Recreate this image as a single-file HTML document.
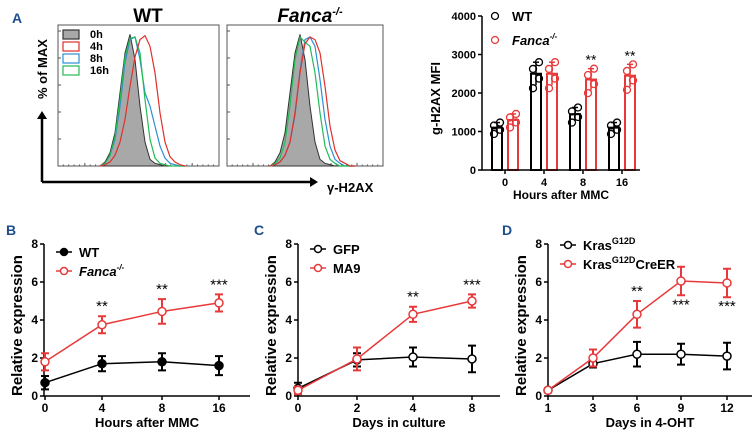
<!DOCTYPE html>
<html><head><meta charset="utf-8"><style>
body{margin:0;background:#fff}
svg{display:block;font-family:"Liberation Sans",Arial,sans-serif;font-weight:bold}
</style></head><body>
<svg id="s" width="754" height="435" viewBox="0 0 754 435">
<g fill="#1f4e8c" font-size="14">
<text x="12" y="23">A</text>
<text x="6" y="235">B</text>
<text x="254" y="235">C</text>
<text x="502" y="235">D</text>
</g>
</svg>
<script>
const NS='http://www.w3.org/2000/svg';
const S=document.getElementById('s');
function el(t,a,p){const e=document.createElementNS(NS,t);for(const k in a)e.setAttribute(k,a[k]);(p||S).appendChild(e);return e;}
function tx(x,y,s,a,p){const e=el('text',Object.assign({x:x,y:y},a),p);e.textContent=s;return e;}

// ---------- Panel A histograms data ----------
const histBins=[0,1,2,3,4,5,6,7,8,9,10,11,12,13,14,15,16,17];
const wtGrey=[0,3,10,25,55,85,99,80,45,18,5,2,1,0,0,0,0,0];
const wtRed=[0,1,3,8,18,35,60,82,95,98,90,70,40,18,7,3,1,0];
const wtBlue=[0,2,8,20,45,78,95,97,80,55,45,30,15,6,2,1,0,0];
const wtGreen=[0,2,8,22,50,82,96,97,85,50,20,6,2,1,0,0,0,0];
const fGrey=[0,3,10,25,55,85,99,80,45,18,5,2,1,0,0,0,0,0];
const fRed=[0,1,3,8,18,40,70,92,97,95,85,60,30,12,4,2,0,0];
const fBlue=[0,1,3,8,18,38,72,95,97,90,65,35,15,5,2,0,0,0];
const fGreen=[0,2,6,18,45,80,97,93,90,70,40,15,5,2,0,0,0,0];

function histPanel(name,x0,x1,start,series){
  const g=el('g',{});
  
  
  const yb=166,yt=25;
  el('rect',{x:x0,y:yt,width:x1-x0,height:yb-yt,fill:'none',stroke:'#555','stroke-width':1},g);
  for(let i=0;i<6;i++){el('line',{x1:x0,x2:x0+3,y1:yb-i*27,y2:yb-i*27,stroke:'#555'},g);}
  for(let i=0;i<30;i++){el('line',{x1:x0+i*(x1-x0)/30,x2:x0+i*(x1-x0)/30,y1:yb,y2:yb-(i%5==0?3:1.5),stroke:'#555'},g);}
  const sx=b=>start+b*5, sy=h=>yb-h/100*(yb-yt-8);
  series.forEach(([d,col,fill])=>{
    let pts=histBins.map((b,i)=>sx(b)+','+sy(d[i])).join(' ');
    if(fill){const p=el('polygon',{points:sx(0)+','+yb+' '+pts+' '+sx(17)+','+yb,fill:'#a8a8a8',stroke:'#333','stroke-width':1},g);
      }
    else{const p=el('polyline',{points:pts,fill:'none',stroke:col,'stroke-width':1.2},g);
      }
  });
}
histPanel('histogram-wt',58,219,100,[[wtGrey,'#333',1],[wtBlue,'#2b8fd6'],[wtGreen,'#22bb55'],[wtRed,'#e0302a']]);
histPanel('histogram-fanca',227,383,270,[[fGrey,'#333',1],[fBlue,'#2b8fd6'],[fGreen,'#22bb55'],[fRed,'#e0302a']]);
tx(148,22,'WT',{'font-size':19,'text-anchor':'middle'});
const ft=tx(310,22,'',{'font-size':19,'text-anchor':'middle','font-style':'italic'});
ft.innerHTML='Fanca<tspan dy="-7" font-size="11">-/-</tspan>';
const legA=[['0h','#a8a8a8','#333'],['4h','#fff','#e0302a'],['8h','#fff','#2b8fd6'],['16h','#fff','#22bb55']];
legA.forEach((l,i)=>{el('rect',{x:63,y:30+i*12,width:16,height:9,fill:l[1],stroke:l[2],'stroke-width':1.2});tx(90,38+i*12,l[0],{'font-size':11});});
el('path',{d:'M42,182 L42,118 M42,182 L312,182',stroke:'#000','stroke-width':2.5,fill:'none'});
el('polygon',{points:'37,119 47,119 42,111',fill:'#000'});
el('polygon',{points:'310,177 310,187 318,182',fill:'#000'});
tx(0,0,'% of MAX',{'font-size':13,transform:'translate(47,99) rotate(-90)'});
tx(327,192,'γ-H2AX',{'font-size':13});

// ---------- Panel A bar chart ----------
const barCats=['0','4','8','16'];
const barWT=[1100,2500,1450,1100];
const barFa=[1300,2500,2350,2450];
const barTicks=[0,1000,2000,3000,4000];
const barStars=['','','**','**'];
(function(){
  const g=el('g',{});
  
  
  const X0=482,X1=640,Y0=170,Y1=16;
  const y=v=>Y0-v/4000*(Y0-Y1);
  const cx=i=>505+i*39;
  barTicks.forEach(t=>{el('line',{x1:X0-4,x2:X0,y1:y(t),y2:y(t),stroke:'#000','stroke-width':1.5},g);tx(X0-6,y(t)+4,t,{'font-size':11,'text-anchor':'end'},g);});
  barCats.forEach((c,i)=>{
    el('line',{x1:cx(i),x2:cx(i),y1:Y0,y2:Y0+4,stroke:'#000','stroke-width':1.5},g);
    tx(cx(i),Y0+16,c,{'font-size':11,'text-anchor':'middle'},g);
    [[barWT[i],'#000',-8],[barFa[i],'#e8393a',8]].forEach(([v,col,o])=>{
      const b=el('rect',{x:cx(i)+o-5,y:y(v),width:10,height:Y0-y(v),fill:'none',stroke:col,'stroke-width':2},g);
      
      el('line',{x1:cx(i)+o,x2:cx(i)+o,y1:y(v*0.88),y2:y(v*1.12),stroke:col,'stroke-width':1.5},g);
      el('line',{x1:cx(i)+o-3,x2:cx(i)+o+3,y1:y(v*1.12),y2:y(v*1.12),stroke:col,'stroke-width':1.5},g);
      [-0.15,-0.05,0.05,0.12].forEach((d,k)=>{el('circle',{cx:cx(i)+o+(k%2?3:-3),cy:y(v*(1+d)),r:3.5,fill:'none',stroke:col,'stroke-width':1.3},g);});
    });
    if(barStars[i])tx(cx(i)+8,y(barFa[i]*1.12)-4,barStars[i],{'font-size':14,'text-anchor':'middle','font-weight':'normal'},g);
  });
  el('path',{d:`M${X0},${Y1} L${X0},${Y0} L${X1},${Y0}`,stroke:'#000','stroke-width':1.5,fill:'none'},g);
  tx(0,0,'g-H2AX MFI',{'font-size':13,transform:'translate(440,135) rotate(-90)'},g);
  tx(561,199,'Hours after MMC',{'font-size':12,'text-anchor':'middle'},g);
  el('circle',{cx:495,cy:16,r:3.5,fill:'none',stroke:'#000','stroke-width':1.3},g);
  tx(512,21,'WT',{'font-size':13},g);
  el('circle',{cx:495,cy:40,r:3.5,fill:'none',stroke:'#e8393a','stroke-width':1.3},g);
  const f=tx(512,45,'',{'font-size':13,'font-style':'italic'},g);f.innerHTML='Fanca<tspan dy="-6" font-size="8">-/-</tspan>';
})();

// ---------- Line charts ----------
const bCats=['0','4','8','16'];
const bWT=[0.7,1.7,1.8,1.6];
const bWTerr=[0.35,0.4,0.45,0.5];
const bFa=[1.8,3.75,4.45,4.9];
const bFaErr=[0.45,0.45,0.65,0.45];
const bStars=['','**','**','***'];
const cCats=['0','2','4','8'];
const cGFP=[0.4,1.9,2.05,1.95];
const cGFPerr=[0.3,0.35,0.5,0.7];
const cMA9=[0.3,1.95,4.3,5.0];
const cMA9err=[0.2,0.6,0.4,0.35];
const cStars=['','','**','***'];
const dCats=['1','3','6','9','12'];
const dK=[0.3,1.7,2.2,2.2,2.1];
const dKerr=[0.1,0.2,0.65,0.55,0.7];
const dC=[0.3,2.0,4.3,6.05,5.95];
const dCerr=[0.1,0.45,0.7,0.75,0.75];
const dStars=['','','**','***','***'];
const yTicks=[0,2,4,6,8];

function lineChart(name,ax,xpos,axEnd,cats,s1,e1,s2,e2,stars,starBelow,filled,xTitle,leg,legY){
  const g=el('g',{});
  
  
  const Y0=396,Y1=244;
  const y=v=>Y0-v/8*(Y0-Y1);
  const x=i=>xpos[i];
  yTicks.forEach(t=>{el('line',{x1:ax-4,x2:ax,y1:y(t),y2:y(t),stroke:'#000','stroke-width':1.5},g);tx(ax-6,y(t)+4,t,{'font-size':12,'text-anchor':'end'},g);});
  cats.forEach((c,i)=>{el('line',{x1:x(i),x2:x(i),y1:Y0,y2:Y0+4,stroke:'#000','stroke-width':1.5},g);tx(x(i),Y0+16,c,{'font-size':12,'text-anchor':'middle'},g);});
  el('path',{d:`M${ax},${Y1} L${ax},${Y0} L${axEnd},${Y0}`,stroke:'#000','stroke-width':1.5,fill:'none'},g);
  [[s1,e1,'#000',filled],[s2,e2,'#e8393a',false]].forEach(([s,e,col,fl],k)=>{
    const l=el('polyline',{points:s.map((v,i)=>x(i)+','+y(v)).join(' '),fill:'none',stroke:col,'stroke-width':1.5},g);
    
    s.forEach((v,i)=>{
      el('path',{d:`M${x(i)},${y(v-e[i])} L${x(i)},${y(v+e[i])} M${x(i)-4},${y(v-e[i])} L${x(i)+4},${y(v-e[i])} M${x(i)-4},${y(v+e[i])} L${x(i)+4},${y(v+e[i])}`,stroke:col,'stroke-width':2,fill:'none'},g);
      const m=el('circle',{cx:x(i),cy:y(v),r:4,fill:fl?'#000':'#fff',stroke:col,'stroke-width':1.5},g);
      
    });
  });
  stars.forEach((st,i)=>{if(!st)return;
    const ty=starBelow[i]?y(s2[i]-e2[i])+14:y(s2[i]+e2[i])-5;
    tx(x(i),ty,st,{'font-size':15,'text-anchor':'middle','font-weight':'normal'},g);});
  tx(0,0,'Relative expression',{'font-size':15,transform:`translate(${ax-22},${Y0}) rotate(-90)`,'font-weight':'bold'},g);
  tx((ax+axEnd)/2,Y0+31,xTitle,{'font-size':13,'text-anchor':'middle'},g);
  leg.forEach((L,k)=>{const ly=legY+k*19;
    el('line',{x1:ax+12,x2:ax+28,y1:ly,y2:ly,stroke:k?'#e8393a':'#000','stroke-width':1.5},g);
    el('circle',{cx:ax+20,cy:ly,r:3.5,fill:(k==0&&filled)?'#000':'#fff',stroke:k?'#e8393a':'#000','stroke-width':1.5},g);
    const t=tx(ax+35,ly+5,'',{'font-size':13},g);t.innerHTML=L;});
}
lineChart('chart-b',44,[45,102,162,219],250,bCats,bWT,bWTerr,bFa,bFaErr,bStars,[0,0,0,0],true,'Hours after MMC',['WT','<tspan font-style="italic">Fanca<tspan dy="-6" font-size="8">-/-</tspan></tspan>'],252);
lineChart('chart-c',298,[298,357,413,472],500,cCats,cGFP,cGFPerr,cMA9,cMA9err,cStars,[0,0,0,0],false,'Days in culture',['GFP','MA9'],249);
lineChart('chart-d',548,[548,593,637,681,727],752,dCats,dK,dKerr,dC,dCerr,dStars,[0,0,0,1,1],false,'Days in 4-OHT',['Kras<tspan dy="-6" font-size="9">G12D</tspan>','Kras<tspan dy="-6" font-size="9">G12D</tspan><tspan dy="6">CreER</tspan>'],245);
</script>
</body></html>
